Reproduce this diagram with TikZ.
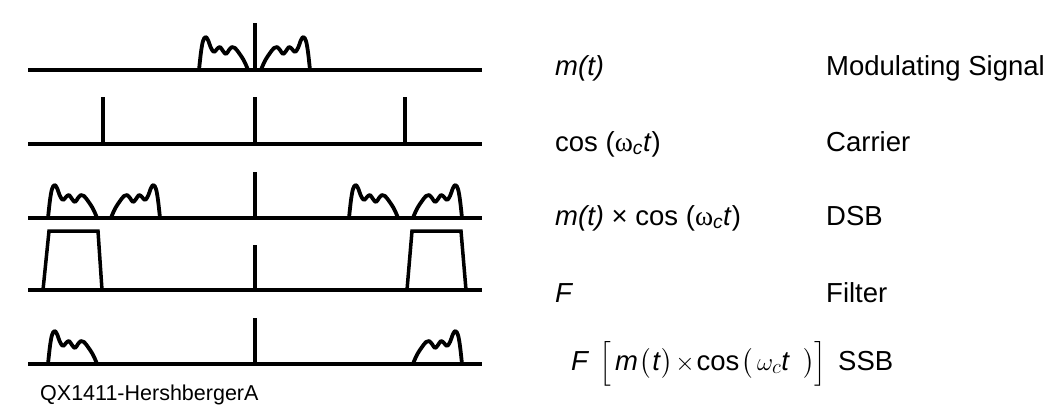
\documentclass[tikz,border=0pt]{standalone}
\usepackage{fontspec}
\setmainfont{Liberation Sans}
\newfontfamily\grkfont{Liberation Serif}
\usepackage{amsmath}
\usepackage{tikz}
\usetikzlibrary{positioning}
\tikzset{spaxis/.style={line width=3.5pt,draw=black},
splump/.style={line width=3.8pt,line join=round,line cap=round,draw=black},
lumpl/.pic={\draw[splump] plot[smooth,tension=.55] coordinates {(0,0) (2,-18) (4,-29) (6.5,-33) (9,-30) (12,-22) (15,-18) (18,-21) (21,-23) (24,-19) (27,-16) (30,-20) (33,-23) (36,-22) (40,-17) (44,-11) (47,-5) (49,0)};}}

\begin{document}
\begin{tikzpicture}[x=1pt,y=-1pt,
sptext/.style={font=\fontsize{27.5}{32}\selectfont,anchor=base west,inner sep=0pt},
sptag/.style={font=\fontsize{21.5}{25}\selectfont,anchor=base west,inner sep=0pt}]
\useasboundingbox (0,0) rectangle (1049,416);
% axes and centre lines
\foreach \y in {70,144,218,290,364}{\draw[spaxis] (28,\y)--(482,\y);}
\foreach \t/\b in {23/70,97/144,172/218,245/290,318/364}{\draw[spaxis] (255,\t)--(255,\b);}
% carrier
\draw[spaxis] (103,97)--(103,144);\draw[spaxis] (405,97)--(405,144);
% spectra
\pic at (199,70) {lumpl};\pic[xscale=-1] at (310,70) {lumpl};
\pic at (48,218) {lumpl};\pic[xscale=-1] at (160,218) {lumpl};
\pic at (349,218) {lumpl};\pic[xscale=-1] at (462,218) {lumpl};
\pic at (48,364) {lumpl};\pic[xscale=-1] at (462,364) {lumpl};
% filter
\draw[spaxis] (43,290)--(49,231)--(98,231)--(102,290);
\draw[spaxis] (407,290)--(412,231)--(461,231)--(466,290);
% texts
\node[sptext] (fm) at (555,75) {\textit{m(t)}};\node[sptext] (sig) at (826,75) {Modulating Signal};
\node[sptext] (fcos) at (555,151) {cos ({\grkfont ω}\textsubscript{\textit{c}}\textit{t})};\node[sptext] (carrier) at (826,151) {Carrier};
\node[sptext] (fdsb) at (555,225) {\textit{m(t)} × cos ({\grkfont ω}\textsubscript{\textit{c}}\textit{t})};\node[sptext] (dsb) at (826,225) {DSB};
\node[sptext] (ff) at (555,302) {\textit{F}};\node[sptext] (filt) at (826,302) {Filter};
\node[sptext] (fssb) at (571,370) {\textit{F}\hspace{10pt}$\Big[$\hspace{4pt}\textit{m}\hspace{2pt}$\big($\hspace{1pt}\textit{t}\hspace{1pt}$\big)$\hspace{2pt}$\times$\hspace{2pt}cos\hspace{2pt}$\big(\,\omega_c$\textit{t}\hspace{13pt}$\big)\Big]$};
\node[sptext] (ssb) at (838,370) {SSB};
\node[sptag] (tag) at (40,400) {QX1411-HershbergerA};
\end{tikzpicture}
\end{document}
